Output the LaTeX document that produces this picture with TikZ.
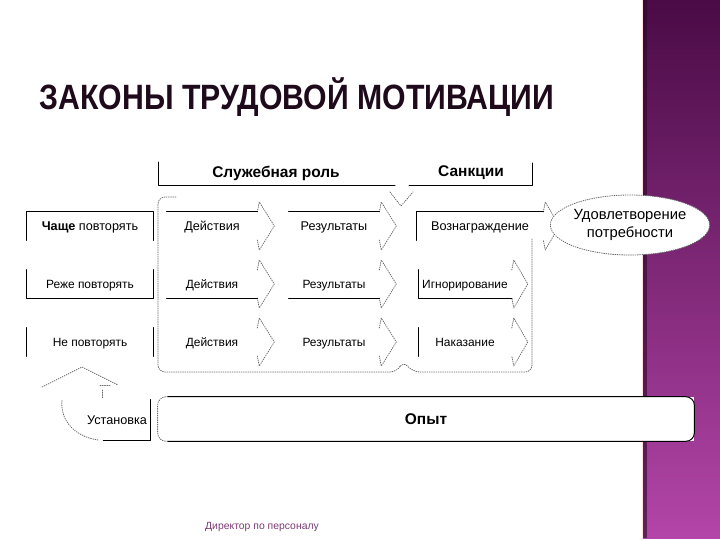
\documentclass[tikz,border=0pt]{standalone}
\usepackage{fontspec}
\setmainfont{Liberation Sans}
\usepackage{tikz}
\usetikzlibrary{calc,positioning,shapes.geometric}
\definecolor{bandtop}{HTML}{4A0B46}
\definecolor{bandbot}{HTML}{B345A8}
\definecolor{ink}{HTML}{1E0A1A}
\definecolor{dots}{HTML}{6A6A6A}
\definecolor{footink}{HTML}{7A3A72}
\tikzset{
    every picture/.style={line cap=round,line join=round},
    cell/.style={minimum width=2.25cm,minimum height=0.7cm,inner sep=0pt,
      text height=1.6ex,text depth=0.45ex},
    headlabel/.style={font=\fontsize{11}{13}\selectfont\bfseries},
    solidline/.style={draw=black,line width=0.7pt},
    dotline/.style={draw=dots,line width=0.6pt,densely dotted}
}
% dotted arrow head after a cell
\newcommand\chev[2]{%
  \draw[dotline] ($(#1.east)+(0,-14)$) -- ($(#1.east)+(2,-24)$)
    -- ($(#1.east)+(#2,0)$) -- ($(#1.east)+(2,24)$) -- ($(#1.east)+(0,14)$);}

\begin{document}
\begin{tikzpicture}[x=0.025cm,y=-0.025cm]
  \useasboundingbox (0,0) rectangle (720,540);
  % side band
  \shade[top color=bandtop,bottom color=bandbot] (643,0) rectangle (720,538);
  \fill[bandtop!60!black,opacity=0.6] (643,0) rectangle (647,538);
  \draw[pink!50,line width=0.6pt] (642,0) -- (642,538);
  \node[text=ink,font=\fontsize{25}{30}\selectfont\bfseries] (title) at (297,97)
    {\scalebox{0.86}[1]{ЗАКОНЫ ТРУДОВОЙ МОТИВАЦИИ}};
  % headers
  \node[headlabel] (role) at (276,173) {Служебная роль};
  \node[headlabel] (sanc) at (471,173) {Санкции};
  \draw[solidline] (158,162) |- (395,185);
  \draw[solidline] (409,185) -| (532,163);
  % rows
  \foreach \lab/\san/\sw/\sx/\fs [count=\r] in {{\textbf{Чаще} повторять}/Вознаграждение/126/480/9,
      {Реже повторять}/Игнорирование/93/465/8.5,{Не повторять}/Наказание/93/465/8.5}{
    \pgfmathsetmacro\y{226+58*(\r-1)}
    \begin{scope}[every node/.append style={font=\fontsize{\fs}{11}\selectfont}]
    \node[cell,minimum width=3.15cm] (lab\r) at (90,\y) {\lab};
    \node[cell] (act\r) at (212,\y) {Действия};
    \node[cell] (res\r) at (334,\y) {Результаты};
    \node[cell,minimum width=\sw*0.025cm] (san\r) at (\sx,\y) {\san};
    \end{scope}
    \chev{act\r}{17} \chev{res\r}{17} \chev{san\r}{16}
  }
  \draw[solidline] (lab1.south west) |- (lab1.north east) -- (lab1.south east);
  \draw[solidline] (lab2.north west) |- (lab2.south east) -- (lab2.north east);
  \draw[solidline] (lab3.north west) -- (lab3.south west) (lab3.north east) -- (lab3.south east);
  \draw[solidline] (act1.north west) -- (act1.north east) (res1.north west) -- (res1.north east)
    (san1.south west) |- (san1.north east);
  \draw[solidline] (act2.south west) -- (act2.south east) (res2.south west) -- (res2.south east)
    (san2.north west) |- (san2.south east);
  \draw[solidline] (san3.north west) -- (san3.south west);
  % dotted frames
  \draw[dotline,rounded corners=5pt] (176,197) -- (158,197) -- (158,372) -- (397,372)
    -- (403,361) -- (413,372) -- (532,372) -- (532,238);
  \draw[dotline] (390,192) -- (401,206) -- (413,192);
  \node[ellipse,draw=dots,densely dotted,line width=0.6pt,fill=white,minimum width=3.35cm,
    minimum height=1.5cm,inner sep=0pt,align=center,font=\fontsize{10.5}{13}\selectfont]
    (need) at (630,225) {Удовлетворение\\потребности};
  % experience bar
  \node[fill=white,minimum width=13.4cm,minimum height=1.1cm,inner sep=0pt,
    font=\fontsize{11}{13}\selectfont\bfseries] (exp) at (426,419) {Опыт};
  \draw[solidline,rounded corners=6pt] ($(exp.north west)+(10,0)$) -- (exp.north east)
    -- (exp.south east) -- ($(exp.south west)+(10,0)$);
  \draw[dotline,rounded corners=6pt] ($(exp.north west)+(10,0)$) -- (exp.north west)
    -- (exp.south west) -- ($(exp.south west)+(10,0)$);
  % attitude
  \node[cell,minimum width=1.65cm,minimum height=1cm,font=\fontsize{9}{11}\selectfont]
    (inst) at (117,420) {Установка};
  \draw[solidline] (inst.north east) -- (inst.south east) -- ++(-47,0);
  \draw[dotline] (98,440) .. controls (72,436) and (60,418) .. (62,400);
  \draw[dotline] (42,387) -- (82,367) -- (118,385);
  \draw[dotline] (100,385) -- (110,385) (102,390) -- (102,398);
  \node[text=footink,font=\fontsize{7.4}{9}\selectfont] (foot) at (262,527) {Директор по персоналу};
\end{tikzpicture}
\end{document}
